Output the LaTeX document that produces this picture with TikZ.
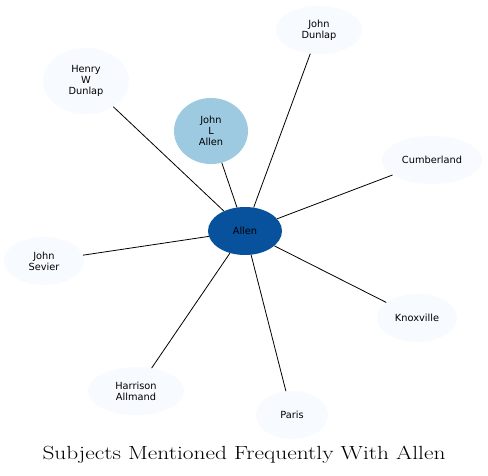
\documentclass[tikz,border=0pt]{standalone}
\usepackage{fontspec}
\usepackage{graphicx}
\newfontfamily\nodefont{DejaVu Sans}
\usetikzlibrary{shapes.geometric}
\definecolor{cdark}{HTML}{08519C}
\definecolor{cmid}{HTML}{9ECAE1}
\definecolor{clight}{HTML}{F7FBFF}
\tikzset{
  ent/.style={ellipse, inner sep=0pt, align=center,
    font=\nodefont\fontsize{9.8}{11}\selectfont},
  light/.style={ent, fill=clight},
  link/.style={draw=black, line width=0.8pt}
}
\begin{document}
\begin{tikzpicture}[x=1pt,y=-1pt]
\useasboundingbox[fill=white] (0,0) rectangle (488,476);
\node[ent, fill=cdark, minimum width=74pt, minimum height=48pt] (allen) at (245,231) {Allen};
\node[ent, fill=cmid, minimum width=74pt, minimum height=66pt] (jla) at (211,131) {John\\L\\Allen};
\node[light, minimum width=86pt, minimum height=48pt] (jd) at (319,30) {John\\Dunlap};
\node[light, minimum width=86pt, minimum height=66pt] (hwd) at (86,81) {Henry\\W\\Dunlap};
\node[light, minimum width=100pt, minimum height=48pt] (cum) at (432,160) {Cumberland};
\node[light, minimum width=80pt, minimum height=48pt] (js) at (44,261) {John\\Sevier};
\node[light, minimum width=80pt, minimum height=48pt] (knox) at (417,318) {Knoxville};
\node[light, minimum width=96pt, minimum height=48pt] (ha) at (136,391) {Harrison\\Allmand};
\node[light, minimum width=72pt, minimum height=48pt] (paris) at (292,415) {Paris};
\foreach \n in {jla,jd,hwd,cum,js,knox,ha,paris} \draw[link] (allen) -- (\n);
\node[font=\fontsize{19}{21}\selectfont, anchor=base] (title) at (244,459) {\scalebox{1.23}[1]{Subjects Mentioned Frequently With Allen}};
\end{tikzpicture}
\end{document}
